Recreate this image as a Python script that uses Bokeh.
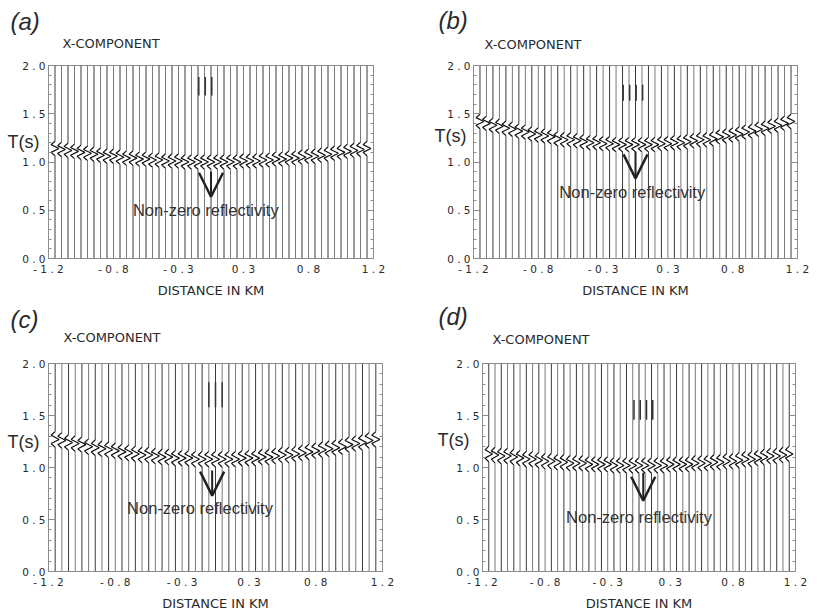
from bokeh.plotting import figure
from bokeh.layouts import row, column
from bokeh.models import Range1d, FixedTicker, LinearAxis, Label, Arrow, OpenHead, Title
from bokeh.embed import file_html
from bokeh.resources import INLINE

# ---------------- data ----------------
OFFSETS_KM = [-1.20, -1.15, -1.10, -1.05, -1.00, -0.95, -0.90, -0.85, -0.80, -0.75,
              -0.70, -0.65, -0.60, -0.55, -0.50, -0.45, -0.40, -0.35, -0.30, -0.25,
              -0.20, -0.15, -0.10, -0.05, 0.00, 0.05, 0.10, 0.15, 0.20, 0.25,
              0.30, 0.35, 0.40, 0.45, 0.50, 0.55, 0.60, 0.65, 0.70, 0.75,
              0.80, 0.85, 0.90, 0.95, 1.00, 1.05, 1.10, 1.15, 1.20]

ARRIVAL_A = [1.14, 1.13, 1.12, 1.11, 1.10, 1.09, 1.08, 1.07, 1.06, 1.06, 1.05, 1.04, 1.04,
             1.03, 1.03, 1.02, 1.02, 1.01, 1.01, 1.01, 1.00, 1.00, 1.00, 1.00,
             1.00,
             1.00, 1.00, 1.00, 1.00, 1.01, 1.01, 1.01, 1.02, 1.02, 1.03, 1.03, 1.04,
             1.04, 1.05, 1.06, 1.06, 1.07, 1.08, 1.09, 1.10, 1.11, 1.12, 1.13, 1.14]

ARRIVAL_B = [1.42, 1.40, 1.38, 1.37, 1.35, 1.34, 1.32, 1.31, 1.29, 1.28, 1.27, 1.26, 1.24,
             1.23, 1.23, 1.22, 1.21, 1.20, 1.20, 1.19, 1.19, 1.18, 1.18, 1.18,
             1.18,
             1.18, 1.18, 1.18, 1.19, 1.19, 1.20, 1.20, 1.21, 1.22, 1.23, 1.23, 1.24,
             1.26, 1.27, 1.28, 1.29, 1.31, 1.32, 1.34, 1.35, 1.37, 1.38, 1.40, 1.42]

ARRIVAL_C = [1.27, 1.26, 1.24, 1.23, 1.22, 1.20, 1.19, 1.18, 1.17, 1.16, 1.15, 1.14, 1.13,
             1.12, 1.12, 1.11, 1.10, 1.10, 1.09, 1.09, 1.09, 1.08, 1.08, 1.08,
             1.08,
             1.08, 1.08, 1.08, 1.09, 1.09, 1.09, 1.10, 1.10, 1.11, 1.12, 1.12, 1.13,
             1.14, 1.15, 1.16, 1.17, 1.18, 1.19, 1.20, 1.22, 1.23, 1.24, 1.26, 1.27]

ARRIVAL_D = [1.13, 1.12, 1.11, 1.11, 1.10, 1.09, 1.08, 1.08, 1.07, 1.06, 1.06, 1.05, 1.05,
             1.04, 1.04, 1.04, 1.03, 1.03, 1.03, 1.03, 1.02, 1.02, 1.02, 1.02,
             1.02,
             1.02, 1.02, 1.02, 1.02, 1.03, 1.03, 1.03, 1.03, 1.04, 1.04, 1.04, 1.05,
             1.05, 1.06, 1.06, 1.07, 1.08, 1.08, 1.09, 1.10, 1.11, 1.11, 1.12, 1.13]

# wavelet (time offset s, horizontal deflection km)
WAVE_DT = [0.075, 0.04, 0.0, -0.04, -0.075]
WAVE_DX = [0.0, -0.03, 0.03, -0.03, 0.0]

# short marks near the top of the section
MARKS_A = [-0.10, -0.05, 0.00]
MARKS_B = [-0.10, -0.05, 0.00, 0.05]
MARKS_C = [-0.05, 0.00, 0.05]
MARKS_D = [-0.05, 0.00, 0.05, 0.10]

Y_TICKS = [0.0, 0.5, 1.0, 1.5, 2.0]
Y_TICK_LABELS = ["0 . 0", "0 . 5", "1 . 0", "1 . 5", "2 . 0"]
Y_MINOR = [0.0, 0.1, 0.2, 0.3, 0.4, 0.5, 0.6, 0.7, 0.8, 0.9, 1.0,
           1.1, 1.2, 1.3, 1.4, 1.5, 1.6, 1.7, 1.8, 1.9, 2.0]
X_TICKS = [-1.25, -0.75, -0.25, 0.25, 0.75, 1.25]
X_TICK_LABELS = ["- 1 . 2", "- 0 . 8", "- 0 . 3", "0 . 3", "0 . 8", "1 . 2"]

TXT = "#2a2a2a"
FRAME = "#8c8c8c"
TRACE_COLORS = ["#3a3a3a", "#7a7a7a"]


def make_panel(letter, arrivals, marks, mark_off, mark_t, size, border,
               arrow, note, t_at, t_standoff, letter_title, comp):
    w, h = size
    bl, br, bt, bb = border
    p = figure(width=w, height=h, x_range=Range1d(-1.25, 1.25), y_range=Range1d(0, 2),
               output_backend="svg", toolbar_location=None, title=None,
               min_border_left=bl, min_border_right=br, min_border_top=bt,
               min_border_bottom=bb, x_axis_label="DISTANCE IN KM")
    p.xgrid.visible = False
    p.ygrid.visible = False
    p.outline_line_color = FRAME
    p.outline_line_width = 1
    p.background_fill_color = "white"
    p.border_fill_color = "white"

    # traces
    xs_l, ys_l, cols, xs_w, ys_w = [], [], [], [], []
    for i, (x0, ta) in enumerate(zip(OFFSETS_KM, arrivals)):
        c = TRACE_COLORS[i % 2]
        xs_l += [[x0, x0], [x0, x0]]
        ys_l += [[2.0, ta + WAVE_DT[0]], [ta + WAVE_DT[-1], 0.0]]
        cols += [c, c]
        xs_w.append([x0 + d for d in WAVE_DX])
        ys_w.append([ta + d for d in WAVE_DT])
    p.multi_line(xs_l, ys_l, line_color=cols, line_width=1)
    p.multi_line(xs_w, ys_w, line_color="#111111", line_width=1.2)

    # marks
    p.segment(x0=[m + mark_off for m in marks], x1=[m + mark_off for m in marks],
              y0=[mark_t[0]] * len(marks), y1=[mark_t[1]] * len(marks),
              line_color="#333333", line_width=1.5)

    # axes
    yax = p.yaxis[0]
    yax.ticker = FixedTicker(ticks=Y_TICKS, minor_ticks=Y_MINOR)
    yax.major_label_overrides = dict(zip(Y_TICKS, Y_TICK_LABELS))
    yax.major_tick_in = 6
    yax.major_tick_out = 0
    yax.minor_tick_in = 3
    yax.minor_tick_out = 0
    yax.axis_line_color = FRAME
    yax.major_tick_line_color = FRAME
    yax.minor_tick_line_color = FRAME
    yax.major_label_standoff = 3
    yax.major_label_text_font = "DejaVu Sans"
    yax.major_label_text_font_size = "10.5px"
    yax.major_label_text_color = TXT

    # "T(s)" written as the single label of an extra left axis
    tax = LinearAxis(ticker=FixedTicker(ticks=[t_at], minor_ticks=[]),
                     major_label_overrides={t_at: "T(s)"},
                     major_tick_in=0, major_tick_out=0, minor_tick_in=0, minor_tick_out=0,
                     axis_line_color=None, major_label_standoff=t_standoff,
                     major_label_text_font="Liberation Sans",
                     major_label_text_font_size="18px", major_label_text_color=TXT)
    p.add_layout(tax, "left")

    ra = LinearAxis(ticker=FixedTicker(ticks=Y_TICKS, minor_ticks=Y_MINOR),
                    major_label_text_font_size="1px", major_label_text_color=None,
                    major_tick_in=6, major_tick_out=0,
                    minor_tick_in=3, minor_tick_out=0, axis_line_color=FRAME,
                    major_tick_line_color=FRAME, minor_tick_line_color=FRAME,
                    major_label_standoff=0)
    p.add_layout(ra, "right")

    xax = p.xaxis[0]
    xax.ticker = FixedTicker(ticks=X_TICKS, minor_ticks=[])
    xax.major_label_overrides = dict(zip(X_TICKS, X_TICK_LABELS))
    xax.major_tick_in = 0
    xax.major_tick_out = 0
    xax.minor_tick_in = 0
    xax.minor_tick_out = 0
    xax.axis_line_color = FRAME
    xax.major_label_standoff = 4
    xax.major_label_text_font = "DejaVu Sans"
    xax.major_label_text_font_size = "10.5px"
    xax.major_label_text_color = TXT
    xax.axis_label_text_font = "DejaVu Sans"
    xax.axis_label_text_font_size = "13px"
    xax.axis_label_text_font_style = "normal"
    xax.axis_label_text_color = TXT
    xax.axis_label_standoff = 5

    # "X-COMPONENT" as the single label of an axis above the frame (nearest to the frame)
    cax = LinearAxis(ticker=FixedTicker(ticks=[comp[0]], minor_ticks=[]),
                     major_label_overrides={comp[0]: "X-COMPONENT"},
                     major_tick_in=0, major_tick_out=0, minor_tick_in=0, minor_tick_out=0,
                     axis_line_color=None, major_label_standoff=comp[1],
                     major_label_text_font="DejaVu Sans",
                     major_label_text_font_size="13px", major_label_text_color=TXT)
    p.add_layout(cax, "above")
    # panel letter as a title above it
    p.add_layout(Title(text="(" + letter + ")", align="left", offset=letter_title[0],
                       standoff=letter_title[1], text_font="Liberation Sans",
                       text_font_size="24px", text_font_style="italic",
                       text_color=TXT), "above")

    # annotations inside the frame
    p.add_layout(Arrow(end=OpenHead(size=24, line_width=2.5, line_color="#222222"),
                       x_start=arrow[0], y_start=arrow[1], x_end=arrow[0], y_end=arrow[2],
                       line_width=2, line_color="#222222"))
    p.add_layout(Label(x=note[0], y=note[1], text="Non-zero reflectivity",
                       text_font="Liberation Sans", text_font_size="16.5px",
                       text_color="#333333", text_align="center", text_baseline="middle"))
    return p


pa = make_panel("a", ARRIVAL_A, MARKS_A, 0.006, (1.69, 1.88), (410, 300), (48, 37, 65, 41),
                (0.0, 0.90, 0.64), (-0.04, 0.505), 1.21, -20, (-38, -5), (-0.769, 15))
pb = make_panel("b", ARRIVAL_B, MARKS_B, 0.005, (1.635, 1.80), (407, 300), (63, 20, 65, 42),
                (0.0, 1.11, 0.83), (-0.025, 0.69), 1.27, -22, (-35, -1), (-0.791, 14))
pc = make_panel("c", ARRIVAL_C, MARKS_C, 0.0, (1.58, 1.82), (410, 313), (48, 28, 63, 38),
                (-0.025, 0.97, 0.73), (-0.116, 0.61), 1.25, -20, (-38, -13), (-0.775, 19))
pd_ = make_panel("d", ARRIVAL_D, MARKS_D, 0.01, (1.46, 1.65), (407, 313), (72, 22, 63, 37),
                 (0.034, 0.95, 0.68), (0.0, 0.525), 1.26, -16, (-44, -3), (-0.783, 17))

layout = column(row(pa, pb), row(pc, pd_))
open("out.html", "w").write(file_html(layout, INLINE))
